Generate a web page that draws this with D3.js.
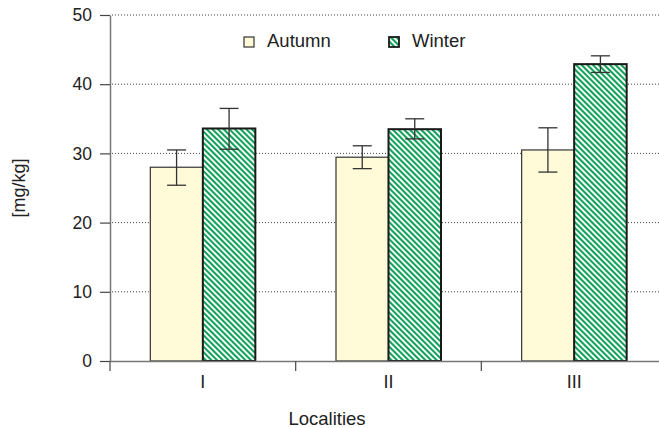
<!DOCTYPE html>
<html>
<head>
<meta charset="utf-8">
<script src="https://cdn.jsdelivr.net/npm/d3@7"></script>
<style>
  body { margin: 0; background: #fff; }
  svg text { font-family: "Liberation Sans", Arial, sans-serif; fill: #222; }
</style>
</head>
<body>
<div id="chart"></div>
<script>
const localities = ["I", "II", "III"];
const seasons = ["Autumn", "Winter"];
const autumnMean = [28.0, 29.45, 30.5];
const autumnErrLow = [25.4, 27.8, 27.3];
const autumnErrHigh = [30.5, 31.1, 33.7];
const winterMean = [33.6, 33.5, 42.9];
const winterErrLow = [30.6, 32.1, 41.7];
const winterErrHigh = [36.5, 35.0, 44.1];
const yTicks = [0, 10, 20, 30, 40, 50];

const width = 659;
const height = 428;

const svg = d3.select("#chart").append("svg")
  .attr("width", width)
  .attr("height", height);

// hatch for winter bars
const defs = svg.append("defs");
defs.append("pattern")
  .attr("id", "hatch")
  .attr("patternUnits", "userSpaceOnUse")
  .attr("width", 4)
  .attr("height", 4)
  .attr("patternTransform", "rotate(-45)")
  .call(p => {
    p.append("rect").attr("width", 4).attr("height", 4).attr("fill", "#fff");
    p.append("rect").attr("width", 2.1).attr("height", 4).attr("fill", "#12a05a");
  });

const x = d3.scaleBand().domain(localities).range([110, 667]).paddingInner(0);
const xSub = d3.scaleBand().domain(seasons).range([0, x.bandwidth()]).paddingOuter(0.768).paddingInner(0);
const y = d3.scaleLinear().domain([0, 50]).range([361, 15]);

const rows = localities.map((loc, i) => ({
  loc,
  vals: [
    { s: "Autumn", v: autumnMean[i], lo: autumnErrLow[i], hi: autumnErrHigh[i] },
    { s: "Winter", v: winterMean[i], lo: winterErrLow[i], hi: winterErrHigh[i] }
  ]
}));

// dotted gridlines
svg.append("g").selectAll("line")
  .data(yTicks.filter(d => d > 0))
  .enter().append("line")
  .attr("x1", 112).attr("x2", width)
  .attr("y1", d => y(d)).attr("y2", d => y(d))
  .attr("stroke", "#444")
  .attr("stroke-width", 1)
  .attr("stroke-dasharray", "1,2");

// bars
const groups = svg.append("g").selectAll("g")
  .data(rows)
  .enter().append("g")
  .attr("transform", d => `translate(${x(d.loc)},0)`);

groups.selectAll("rect")
  .data(d => d.vals)
  .enter().append("rect")
  .attr("x", d => xSub(d.s))
  .attr("width", xSub.bandwidth())
  .attr("y", d => y(d.v))
  .attr("height", d => y(0) - y(d.v))
  .attr("fill", d => d.s === "Autumn" ? "#fffad8" : "url(#hatch)")
  .attr("stroke", d => d.s === "Autumn" ? "#333" : "#1a1a1a")
  .attr("stroke-width", d => d.s === "Autumn" ? 1.2 : 2);

// error bars
const capHalf = 9.5;
const err = groups.selectAll("g.err")
  .data(d => d.vals)
  .enter().append("g")
  .attr("class", "err")
  .attr("stroke", "#333")
  .attr("stroke-width", 1.3);
err.append("line")
  .attr("x1", d => xSub(d.s) + xSub.bandwidth() / 2)
  .attr("x2", d => xSub(d.s) + xSub.bandwidth() / 2)
  .attr("y1", d => y(d.lo)).attr("y2", d => y(d.hi));
err.append("line")
  .attr("x1", d => xSub(d.s) + xSub.bandwidth() / 2 - capHalf)
  .attr("x2", d => xSub(d.s) + xSub.bandwidth() / 2 + capHalf)
  .attr("y1", d => y(d.hi)).attr("y2", d => y(d.hi));
err.append("line")
  .attr("x1", d => xSub(d.s) + xSub.bandwidth() / 2 - capHalf)
  .attr("x2", d => xSub(d.s) + xSub.bandwidth() / 2 + capHalf)
  .attr("y1", d => y(d.lo)).attr("y2", d => y(d.lo));

// y axis
const yAxis = svg.append("g")
  .attr("transform", "translate(110,0)")
  .call(d3.axisLeft(y).tickValues(yTicks).tickSize(10).tickPadding(8).tickSizeOuter(0));
yAxis.select(".domain").attr("stroke", "#777").attr("stroke-width", 1.5);
yAxis.selectAll(".tick line").attr("stroke", "#444").attr("stroke-width", 1.2);
yAxis.selectAll(".tick text").style("font-size", "17.5px").attr("fill", "#222");

// x axis
const xAxis = svg.append("g")
  .attr("transform", "translate(0,361)")
  .call(d3.axisBottom(x).tickSize(0).tickPadding(14));
xAxis.select(".domain").attr("stroke", "#777").attr("stroke-width", 1.5);
xAxis.selectAll(".tick text").style("font-size", "18px").attr("fill", "#222");

// band boundary ticks
svg.append("g").selectAll("line")
  .data(localities)
  .enter().append("line")
  .attr("x1", d => x(d)).attr("x2", d => x(d))
  .attr("y1", 361).attr("y2", 371)
  .attr("stroke", "#555")
  .attr("stroke-width", 1.3);

// axis titles
svg.append("text")
  .attr("transform", "translate(25,188) rotate(-90)")
  .attr("text-anchor", "middle")
  .style("font-size", "18px")
  .text("[mg/kg]");
svg.append("text")
  .attr("x", 327).attr("y", 425)
  .attr("text-anchor", "middle")
  .style("font-size", "18.5px")
  .text("Localities");

// legend
const legendX = [244, 389];
const legend = svg.append("g").selectAll("g")
  .data(seasons)
  .enter().append("g")
  .attr("transform", (d, i) => `translate(${legendX[i]},37)`);
legend.append("rect")
  .attr("width", 10).attr("height", 10)
  .attr("fill", d => d === "Autumn" ? "#fffad8" : "url(#hatch)")
  .attr("stroke", d => d === "Autumn" ? "#333" : "#1a1a1a")
  .attr("stroke-width", d => d === "Autumn" ? 1.2 : 1.8);
legend.append("text")
  .attr("x", 23).attr("y", 10)
  .style("font-size", "18.5px")
  .text(d => d);
</script>
</body>
</html>
